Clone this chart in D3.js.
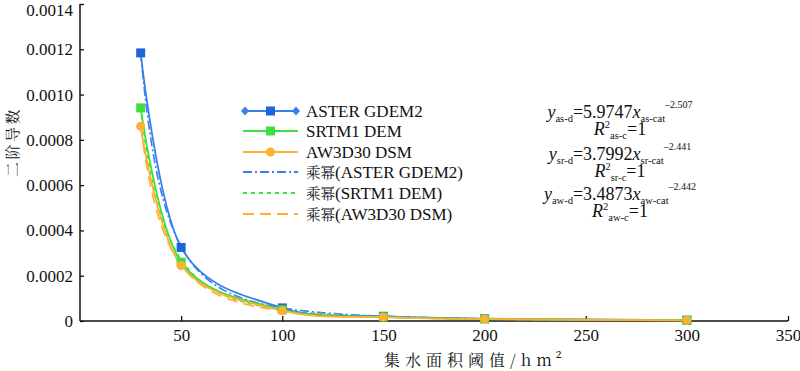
<!DOCTYPE html>
<html><head><meta charset="utf-8">
<script src="https://cdn.jsdelivr.net/npm/d3@7"></script>
<style>
html,body{margin:0;padding:0;background:#fff;}
</style></head>
<body>
<script>
// ---- data ----
const xValues = [30, 50, 100, 150, 200, 300];
const asterValues = [0.001184, 0.000325, 0.0000578, 0.0000209, 0.0000102, 0.0000037];
const srtmValues  = [0.000941, 0.000260, 0.0000498, 0.0000185, 0.0000092, 0.0000034];
const aw3dValues  = [0.000860, 0.000245, 0.0000455, 0.0000169, 0.0000084, 0.0000031];
const seriesNames = ["ASTER GDEM2", "SRTM1 DEM", "AW3D30 DSM"];
const fitPrefix = "乘幂";
const fitNames = ["(ASTER GDEM2)", "(SRTM1 DEM)", "(AW3D30 DSM)"];
const fitCoef = [5.9747, 3.7992, 3.4873];
const fitExp = [-2.507, -2.441, -2.442];
const fitRange = [30, 300];
const eqSubY = ["as-d", "sr-d", "aw-d"];
const eqSubX = ["as-cat", "sr-cat", "aw-cat"];
const eqSubR = ["as-c", "sr-c", "aw-c"];
const eqCoefText = ["5.9747", "3.7992", "3.4873"];
const eqExpText = ["\u20132.507", "\u20132.441", "\u20132.442"];
const xTicks = [50, 100, 150, 200, 250, 300, 350];
const yTicks = [0, 0.0002, 0.0004, 0.0006, 0.0008, 0.0010, 0.0012, 0.0014];
const xTitle = "集水面积阈值/hm²";
const yTitle = "二阶导数";

// ---- styles ----
const colors = ["#3a7ff0", "#3fde3f", "#ffb02e"];
const markerDark = ["#1f63d8", "#2fb82f", "#ffa51a"];
const fitDash = ["9,3,2,3", "4,4", "11,6"];
const FAM = '"Liberation Serif","Noto Serif CJK SC",serif';
const CJK = '"Noto Serif CJK SC","Liberation Serif",serif';

const W = 800, H = 371;
const svg = d3.select("body").append("svg").attr("width", W).attr("height", H);
svg.append("rect").attr("width", W).attr("height", H).attr("fill", "#fff");

const x = d3.scaleLinear().domain([0, 350]).range([80, 788]);
const y = d3.scaleLinear().domain([0, 0.0014]).range([321, 4]);

// axes
const xAxis = svg.append("g").attr("transform", `translate(0,${y(0)})`)
  .call(d3.axisBottom(x).tickValues(xTicks).tickSizeInner(-5).tickSizeOuter(0).tickPadding(8));
const yAxis = svg.append("g").attr("transform", `translate(${x(0)},0)`)
  .call(d3.axisLeft(y).tickValues(yTicks).tickSizeInner(-4).tickSizeOuter(0).tickPadding(7)
    .tickFormat(d => d === 0 ? "0" : d3.format(".4f")(d)));
[xAxis, yAxis].forEach(g => {
  g.attr("font-family", null);
  g.select(".domain").attr("stroke", "#111").attr("stroke-width", 1.5);
  g.selectAll(".tick line").attr("stroke", "#111").attr("stroke-width", 1.3);
  g.selectAll(".tick text").attr("font-size", 17).attr("fill", "#111").style("font-family", FAM);
});
// keep the top tick label inside the picture
yAxis.selectAll(".tick text").filter(d => d === 0.0014).attr("y", 6);
xAxis.select(".domain").attr("d", `M${x(0)},0H${x(350)}`);
yAxis.select(".domain").attr("d", `M0,${y(0.0014)}V${y(0)}`);

// titles
svg.append("text").attr("x", 384).attr("y", 366).attr("font-size", 16)
  .attr("letter-spacing", 5).attr("fill", "#111").style("font-family", CJK).text(xTitle);
svg.append("text").attr("transform", "translate(18,177) rotate(-90)")
  .attr("font-size", 15).attr("letter-spacing", 2.5).attr("fill", "#111").style("font-family", CJK).text(yTitle);

const dataSeries = [asterValues, srtmValues, aw3dValues];

// fit curves
dataSeries.forEach((vals, i) => {
  const pts = d3.range(fitRange[0], fitRange[1] + 0.01, 1).map(xv => [xv, fitCoef[i] * Math.pow(xv, fitExp[i])]);
  svg.append("path").datum(pts)
    .attr("d", d3.line().x(d => x(d[0])).y(d => y(d[1])))
    .attr("fill", "none").attr("stroke", colors[i]).attr("stroke-width", 1.6)
    .attr("stroke-dasharray", fitDash[i]);
});

// data lines (smoothed like the source chart)
const smooth = d3.line().x(d => x(d[0])).y(d => y(d[1])).curve(d3.curveCardinal.tension(0));
dataSeries.forEach((vals, i) => {
  const pts = xValues.map((xv, k) => [xv, vals[k]]);
  svg.append("path").datum(pts).attr("d", smooth)
    .attr("fill", "none").attr("stroke", colors[i]).attr("stroke-width", 1.8);
});

// markers
function drawMarker(g, i, cx, cy) {
  if (i === 2) {
    g.append("circle").attr("cx", cx).attr("cy", cy).attr("r", 4.5).attr("fill", colors[2]);
  } else {
    g.append("rect").attr("x", cx - 4.5).attr("y", cy - 4.5).attr("width", 9).attr("height", 9)
      .attr("fill", i === 0 ? markerDark[0] : colors[1]);
  }
}
dataSeries.forEach((vals, i) => {
  const g = svg.append("g");
  xValues.forEach((xv, k) => drawMarker(g, i, x(xv), y(vals[k])));
});

// legend
const legX0 = 243, legX1 = 298, legTextX = 306;
const legRows = [111, 131, 152, 172, 193, 214];
seriesNames.forEach((name, i) => {
  const ly = legRows[i];
  const g = svg.append("g");
  g.append("line").attr("x1", legX0).attr("x2", legX1).attr("y1", ly).attr("y2", ly)
    .attr("stroke", colors[i]).attr("stroke-width", 2);
  if (i === 0) {
    [legX0 + 2, legX1 - 2].forEach(cx => {
      g.append("path").attr("d", `M${cx},${ly - 4.5}L${cx + 4},${ly}L${cx},${ly + 4.5}L${cx - 4},${ly}Z`)
        .attr("fill", colors[0]);
    });
  }
  drawMarker(g, i, (legX0 + legX1) / 2, ly);
  g.append("text").attr("x", legTextX).attr("y", ly + 5.5).attr("font-size", 17)
    .attr("fill", "#111").style("font-family", FAM).text(name);
});
fitNames.forEach((name, i) => {
  const ly = legRows[i + 3];
  svg.append("line").attr("x1", legX0).attr("x2", legX1).attr("y1", ly).attr("y2", ly)
    .attr("stroke", colors[i]).attr("stroke-width", 1.8).attr("stroke-dasharray", fitDash[i]);
  const t = svg.append("text").attr("x", legTextX).attr("y", ly + 5.5).attr("font-size", 17)
    .attr("fill", "#111").style("font-family", FAM);
  t.append("tspan").attr("font-size", 14.5).style("font-family", CJK).text(fitPrefix);
  t.append("tspan").text(name);
});

// equations
const eqBase = [118, 160, 200];
eqBase.forEach((by, i) => {
  const t = svg.append("text").attr("x", 620).attr("y", by).attr("text-anchor", "middle")
    .attr("font-size", 18).attr("fill", "#111").style("font-family", FAM);
  t.append("tspan").attr("font-style", "italic").text("y");
  t.append("tspan").attr("font-size", 10.5).attr("dy", 4).text(eqSubY[i]);
  t.append("tspan").attr("dy", -4).text("=" + eqCoefText[i]);
  t.append("tspan").attr("font-style", "italic").text("x");
  t.append("tspan").attr("font-size", 10.5).attr("dy", 4).text(eqSubX[i]);
  t.append("tspan").attr("font-size", 10).attr("dy", -14).text(eqExpText[i]);
  const r = svg.append("text").attr("x", 620).attr("y", by + 17).attr("text-anchor", "middle")
    .attr("font-size", 18).attr("fill", "#111").style("font-family", FAM);
  r.append("tspan").attr("font-style", "italic").text("R");
  r.append("tspan").attr("font-size", 10.5).attr("dy", -7).text("2");
  r.append("tspan").attr("font-size", 10.5).attr("dy", 11).text(eqSubR[i]);
  r.append("tspan").attr("dy", -4).text("=1");
});
</script>
</body></html>
